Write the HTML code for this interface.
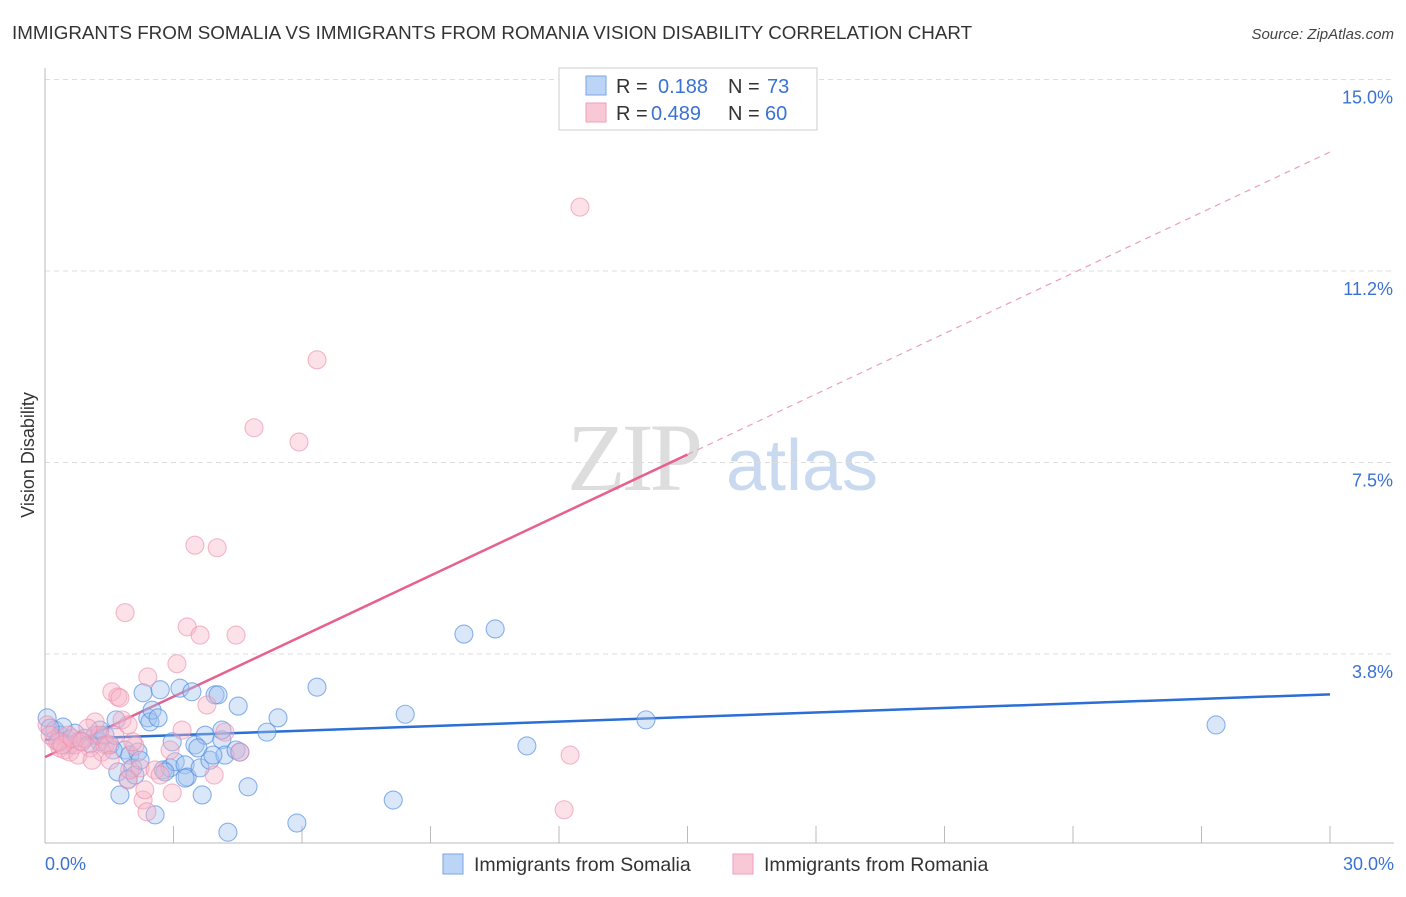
<!DOCTYPE html>
<html><head><meta charset="utf-8"><style>
body{margin:0;background:#fff;font-family:"Liberation Sans",sans-serif;}
</style></head><body>
<svg id="chart" width="1406" height="892" xmlns="http://www.w3.org/2000/svg" font-family="Liberation Sans, sans-serif">
<text x="12" y="39" font-size="18.8" fill="#333">IMMIGRANTS FROM SOMALIA VS IMMIGRANTS FROM ROMANIA VISION DISABILITY CORRELATION CHART</text>
<text x="1394" y="39" font-size="15" fill="#444" font-style="italic" text-anchor="end">Source: ZipAtlas.com</text>
<text transform="translate(34,455) rotate(-90)" font-size="18" fill="#333" text-anchor="middle">Vision Disability</text>
<g>
<text x="633" y="490" font-size="96" font-family="Liberation Serif, serif" fill="#ddd" text-anchor="middle" letter-spacing="-4">ZIP</text>
<text x="802" y="490" font-size="72" fill="#c8d9f0" text-anchor="middle">atlas</text>
</g>
<g id="grid"></g>
<g id="lines"></g>
<g id="pts"></g>
<g>
<rect x="559" y="68" width="258" height="62" fill="#fff" stroke="#ccc"/>
<rect x="586" y="76" width="20" height="19" fill="#bcd4f5" stroke="#7aa5e3"/>
<rect x="586" y="103" width="20" height="19" fill="#f9c8d6" stroke="#ee9fb6"/>
<text x="616" y="93" font-size="20" fill="#333">R =</text>
<text x="658" y="93" font-size="20" fill="#3a72d4">0.188</text>
<text x="728" y="93" font-size="20" fill="#333">N =</text>
<text x="767" y="93" font-size="20" fill="#3a72d4">73</text>
<text x="616" y="120" font-size="20" fill="#333">R =</text>
<text x="651" y="120" font-size="20" fill="#3a72d4">0.489</text>
<text x="728" y="120" font-size="20" fill="#333">N =</text>
<text x="765" y="120" font-size="20" fill="#3a72d4">60</text>
</g>
<g>
<rect x="443" y="854" width="20" height="20" fill="#bcd4f5" stroke="#7aa5e3"/>
<text x="474" y="871" font-size="19.5" fill="#333">Immigrants from Somalia</text>
<rect x="733" y="854" width="20" height="20" fill="#f9c8d6" stroke="#ee9fb6"/>
<text x="764" y="871" font-size="19.5" fill="#333">Immigrants from Romania</text>
</g>
</svg>
<script>
const yTicks=[3.75,7.5,11.25,15.0];
const yTickLabels=["3.8%","7.5%","11.2%","15.0%"];
const xTickLabels=["0.0%","30.0%"];
const somaliaX=[0.05,0.23,0.35,0.54,0.70,0.93,1.17,1.28,1.52,1.66,1.70,1.75,1.87,1.98,2.05,2.17,2.29,2.40,2.45,2.50,2.57,2.64,2.69,2.76,2.92,3.04,3.15,3.27,3.32,3.43,3.50,3.62,3.67,3.74,3.85,3.97,4.04,4.13,4.20,4.27,4.46,4.51,4.74,5.18,5.44,5.88,6.35,8.13,8.41,9.78,10.51,11.25,14.03,27.34,0.42,0.58,1.05,1.40,1.94,2.10,2.80,3.27,3.57,3.92,4.55,4.13,0.35,0.82,0.12,1.59,1.28,2.97,2.22];
const somaliaY=[2.50,2.26,2.16,2.07,2.20,2.10,2.16,2.03,1.97,2.46,1.44,0.99,1.87,1.77,1.52,1.83,2.99,2.50,2.42,2.65,0.60,2.50,3.05,1.48,1.52,1.64,3.08,1.58,1.34,3.01,1.97,1.52,0.99,2.16,1.67,2.95,2.95,2.07,1.77,0.26,1.87,2.73,1.15,2.22,2.50,0.44,3.10,0.89,2.57,4.14,4.24,1.95,2.46,2.36,2.32,1.97,1.99,2.16,1.30,1.38,1.44,1.32,1.91,1.77,1.83,2.26,2.03,2.05,2.30,1.87,2.26,2.03,1.67];
const romaniaX=[0.05,0.23,0.35,0.47,0.58,0.70,0.93,1.05,1.17,1.28,1.40,1.56,1.70,1.75,1.80,1.87,1.94,1.98,2.10,2.22,2.29,2.38,2.40,2.57,2.69,2.92,3.08,3.20,3.32,3.50,3.62,3.78,3.95,4.02,4.20,4.46,4.55,4.88,5.93,6.35,12.12,12.26,12.49,0.12,0.30,0.54,0.77,1.00,1.33,1.47,1.63,2.05,2.33,2.97,1.94,0.40,0.63,1.10,1.52,0.86];
const romaniaY=[2.36,2.07,1.91,1.87,1.83,1.97,2.10,1.91,2.42,2.16,1.97,3.01,2.91,2.89,2.46,4.56,1.28,1.48,1.95,1.52,0.89,0.66,3.30,1.48,1.38,1.87,3.56,2.26,4.28,5.88,4.12,2.75,1.38,5.83,2.22,4.12,1.83,8.18,7.90,9.51,0.70,1.77,12.50,2.16,2.03,2.16,1.77,2.30,1.83,1.97,2.16,2.03,1.09,1.03,2.36,1.97,2.10,1.67,1.67,2.03];
const somaliaTrend=[2.07,2.96];
const romaniaTrend=[1.73,13.58];
const NS="http://www.w3.org/2000/svg";
const X=v=>45+v*(1330-45)/30;
const Y=v=>845.5-v*51.07;
function mk(tag,attrs,parent){const e=document.createElementNS(NS,tag);for(const k in attrs)e.setAttribute(k,attrs[k]);parent.appendChild(e);return e;}
const grid=document.getElementById('grid');
yTicks.forEach((t,i)=>{
 const l=mk('line',{x1:45,x2:1394,y1:Y(t),y2:Y(t),stroke:'#ddd','stroke-dasharray':'5,4'},grid);
 
 
 const tx=mk('text',{x:1393,y:Y(t)+24,'font-size':18,fill:'#3a72d4','text-anchor':'end'},grid);
 tx.textContent=yTickLabels[i];
 
 
});
const ax=mk('line',{x1:45,x2:45,y1:68,y2:843,stroke:'#bbb'},grid);


const bx=mk('line',{x1:45,x2:1394,y1:843,y2:843,stroke:'#bbb'},grid);


for(let i=0;i<=10;i++){
 const t=mk('line',{x1:X(i*3),x2:X(i*3),y1:826,y2:843,stroke:'#bbb'},grid);
 
 
}
[[0,'start',45],[30,'end',1394]].forEach((d,i)=>{
 const tx=mk('text',{x:d[2],y:870,'font-size':18,fill:'#3a72d4','text-anchor':d[1]},grid);
 tx.textContent=xTickLabels[i];
 
 
});
const pts=document.getElementById('pts');
function dots(xs,ys,fill,stroke,name){
 xs.forEach((x,i)=>{
  const c=mk('circle',{cx:X(x),cy:Y(ys[i]),r:9,fill:fill,stroke:stroke,'stroke-width':1.1},pts);
  
  
 });
}
dots(somaliaX,somaliaY,'rgba(160,196,240,0.4)','rgba(80,140,225,0.65)','somalia-point');
dots(romaniaX,romaniaY,'rgba(248,180,200,0.4)','rgba(235,140,170,0.6)','romania-point');
const lines=document.getElementById('lines');
const sb=mk('line',{x1:X(0),y1:Y(somaliaTrend[0]),x2:X(30),y2:Y(somaliaTrend[1]),stroke:'#2a6ed6','stroke-width':2.5},lines);


const rf=t=>romaniaTrend[0]+(romaniaTrend[1]-romaniaTrend[0])*t/30;
const rp=mk('line',{x1:X(0),y1:Y(rf(0)),x2:X(15),y2:Y(rf(15)),stroke:'#e8608e','stroke-width':2.5},lines);


const rd=mk('line',{x1:X(15),y1:Y(rf(15)),x2:X(30),y2:Y(rf(30)),stroke:'#eaa0b8','stroke-width':1.2,'stroke-dasharray':'6,5'},lines);


</script>
</body></html>
